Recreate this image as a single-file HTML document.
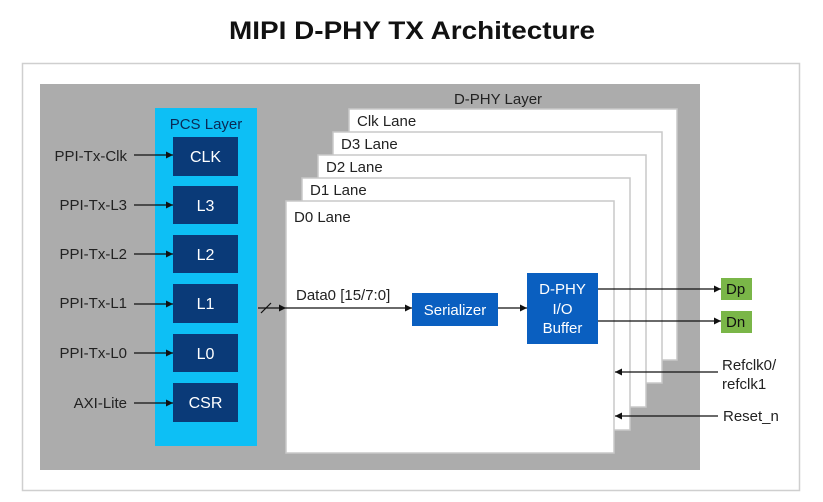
<!DOCTYPE html>
<html><head><meta charset="utf-8"><style>
html,body{margin:0;padding:0;background:#fff;}
svg{display:block;}
text{font-family:"Liberation Sans",sans-serif;}
</style></head><body>
<svg width="823" height="502" viewBox="0 0 823 502" xmlns="http://www.w3.org/2000/svg">
<defs>
<marker id="a" markerWidth="8" markerHeight="8" refX="7" refY="4" orient="auto" markerUnits="userSpaceOnUse">
<path d="M0,0.5 L7,4 L0,7.5 Z" fill="#111"/></marker>
</defs>
<text x="412" y="39" text-anchor="middle" font-size="25" font-weight="bold" fill="#111" textLength="366" lengthAdjust="spacingAndGlyphs">MIPI D-PHY TX Architecture</text>
<rect x="22.5" y="63.5" width="777" height="427" fill="#fff" stroke="#cfcfcf" stroke-width="1.5"/>
<rect x="40" y="84" width="660" height="386" fill="#acacac"/>
<text x="498" y="104" text-anchor="middle" font-size="15" fill="#222">D-PHY Layer</text>
<g stroke="#c8c8c8" stroke-width="1.5" fill="#fff">
<rect x="349" y="109" width="328" height="251"/>
<rect x="333" y="132" width="329" height="251"/>
<rect x="318" y="155" width="328" height="252"/>
<rect x="302" y="178" width="328" height="252"/>
<rect x="286" y="201" width="328" height="252"/>
</g>
<g font-size="15" fill="#222">
<text x="357" y="126">Clk Lane</text>
<text x="341" y="149">D3 Lane</text>
<text x="326" y="172">D2 Lane</text>
<text x="310" y="195">D1 Lane</text>
<text x="294" y="222">D0 Lane</text>
</g>
<rect x="155" y="108" width="102" height="338" fill="#0dbff5"/>
<text x="206" y="129" text-anchor="middle" font-size="15" fill="#0a2a55">PCS Layer</text>
<g fill="#0a3a78">
<rect x="173" y="137" width="65" height="39"/>
<rect x="173" y="186" width="65" height="38"/>
<rect x="173" y="235" width="65" height="38"/>
<rect x="173" y="284" width="65" height="39"/>
<rect x="173" y="334" width="65" height="38"/>
<rect x="173" y="383" width="65" height="39"/>
</g>
<g font-size="16" fill="#fff" text-anchor="middle">
<text x="205.5" y="162">CLK</text>
<text x="205.5" y="211">L3</text>
<text x="205.5" y="260">L2</text>
<text x="205.5" y="309">L1</text>
<text x="205.5" y="359">L0</text>
<text x="205.5" y="408">CSR</text>
</g>
<g font-size="15" fill="#222" text-anchor="end">
<text x="127" y="161">PPI-Tx-Clk</text>
<text x="127" y="210">PPI-Tx-L3</text>
<text x="127" y="259">PPI-Tx-L2</text>
<text x="127" y="308">PPI-Tx-L1</text>
<text x="127" y="358">PPI-Tx-L0</text>
<text x="127" y="408">AXI-Lite</text>
</g>
<g stroke="#111" stroke-width="1.2" marker-end="url(#a)">
<line x1="134" y1="155" x2="173" y2="155"/>
<line x1="134" y1="205" x2="173" y2="205"/>
<line x1="134" y1="254" x2="173" y2="254"/>
<line x1="134" y1="304" x2="173" y2="304"/>
<line x1="134" y1="353" x2="173" y2="353"/>
<line x1="134" y1="403" x2="173" y2="403"/>
<line x1="258" y1="308" x2="286" y2="308"/>
<line x1="286" y1="308" x2="412" y2="308"/>
<line x1="498" y1="308" x2="527" y2="308"/>
<line x1="598" y1="289" x2="721" y2="289"/>
<line x1="598" y1="321" x2="721" y2="321"/>
<line x1="718" y1="372" x2="615" y2="372"/>
<line x1="718" y1="416" x2="615" y2="416"/>
</g>
<line x1="261" y1="313" x2="271" y2="303" stroke="#111" stroke-width="1.2"/>
<text x="296" y="300" font-size="15" fill="#222">Data0 [15/7:0]</text>
<rect x="412" y="293" width="86" height="33" fill="#0a5fc0"/>
<text x="455" y="315" text-anchor="middle" font-size="15" fill="#fff">Serializer</text>
<rect x="527" y="273" width="71" height="71" fill="#0a5fc0"/>
<g font-size="15" fill="#fff" text-anchor="middle">
<text x="562.5" y="294">D-PHY</text>
<text x="562.5" y="314">I/O</text>
<text x="562.5" y="333">Buffer</text>
</g>
<rect x="721" y="278" width="31" height="22" fill="#7ab648"/>
<rect x="721" y="311" width="31" height="22" fill="#7ab648"/>
<g font-size="15" fill="#111">
<text x="726" y="294">Dp</text>
<text x="726" y="327">Dn</text>
</g>
<g font-size="15" fill="#222">
<text x="722" y="370">Refclk0/</text>
<text x="722" y="389">refclk1</text>
<text x="723" y="421">Reset_n</text>
</g>
</svg>
</body></html>
